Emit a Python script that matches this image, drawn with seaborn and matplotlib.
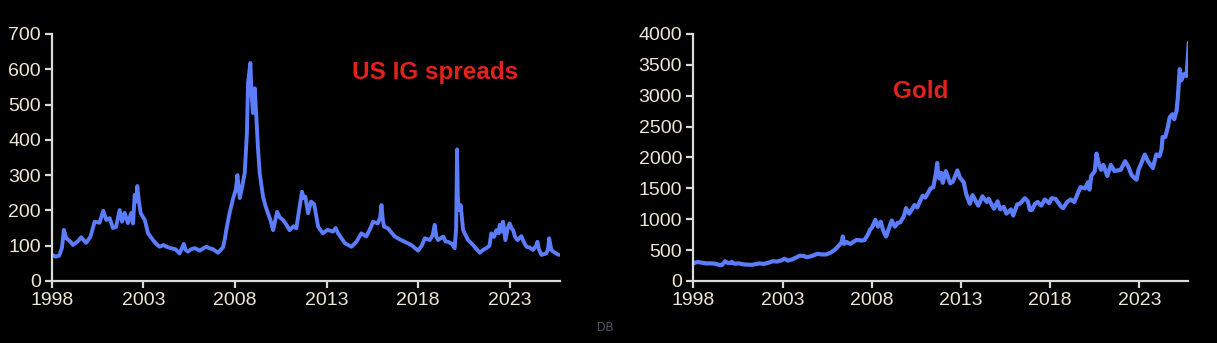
import matplotlib
matplotlib.use("Agg")
import matplotlib.pyplot as plt
import seaborn as sns
import pandas as pd

# ---------------- data ----------------
ig_years = [1998.0, 1998.2, 1998.4, 1998.55, 1998.65, 1998.78, 1999.0, 1999.15, 1999.4, 1999.6,
            1999.86, 2000.1, 2000.33, 2000.6, 2000.8, 2000.97, 2001.15, 2001.33, 2001.5, 2001.7,
            2001.83, 2001.97, 2002.15, 2002.33, 2002.43, 2002.52, 2002.6, 2002.66, 2002.74, 2002.85,
            2003.07, 2003.25, 2003.52, 2003.7, 2003.88, 2004.1, 2004.25, 2004.5, 2004.75, 2004.97,
            2005.2, 2005.3, 2005.43, 2005.6, 2005.8, 2006.07, 2006.25, 2006.43, 2006.6, 2006.8,
            2007.07, 2007.34, 2007.45, 2007.52, 2007.6, 2007.7, 2007.9, 2008.05, 2008.13, 2008.26,
            2008.4, 2008.53, 2008.65, 2008.71, 2008.78, 2008.84, 2008.9, 2008.98, 2009.08, 2009.16,
            2009.25, 2009.35, 2009.53, 2009.65, 2009.8, 2009.95, 2010.08, 2010.3, 2010.45, 2010.62,
            2010.8, 2010.98, 2011.2, 2011.35, 2011.53, 2011.66, 2011.75, 2011.84, 2011.99, 2012.15,
            2012.32, 2012.45, 2012.54, 2012.8, 2013.05, 2013.35, 2013.5, 2013.63, 2014.0, 2014.36,
            2014.63, 2014.9, 2015.17, 2015.4, 2015.54, 2015.8, 2015.93, 2016.0, 2016.07, 2016.14,
            2016.36, 2016.73, 2017.0, 2017.27, 2017.63, 2018.0, 2018.2, 2018.37, 2018.64, 2018.8,
            2018.91, 2019.0, 2019.09, 2019.37, 2019.5, 2019.64, 2019.85, 2020.0, 2020.08, 2020.13,
            2020.17, 2020.22, 2020.33, 2020.46, 2020.73, 2021.0, 2021.2, 2021.37, 2021.55, 2021.73,
            2021.9, 2022.0, 2022.15, 2022.28, 2022.4, 2022.46, 2022.55, 2022.64, 2022.77, 2022.9,
            2023.0, 2023.1, 2023.19, 2023.3, 2023.43, 2023.64, 2023.8, 2023.92, 2024.1, 2024.28,
            2024.45, 2024.52, 2024.6, 2024.74, 2025.0, 2025.1, 2025.16, 2025.28, 2025.47, 2025.69]
ig_spread = [74, 69, 72, 95, 145, 121, 112, 102, 112, 124,
             108, 125, 168, 165, 199, 173, 178, 150, 154, 201,
             168, 193, 164, 193, 163, 244, 225, 269, 229, 192,
             173, 135, 116, 105, 97, 102, 97, 93, 90, 78,
             105, 88, 83, 90, 93, 86, 92, 97, 93, 90,
             80, 95, 120, 144, 165, 192, 235, 260, 300, 235,
             270, 306, 420, 560, 590, 618, 532, 476, 546, 465,
             380, 305, 239, 215, 192, 170, 144, 196, 180, 173,
             160, 144, 155, 149, 211, 253, 235, 239, 192, 225,
             218, 180, 154, 135, 145, 140, 150, 135, 107, 97,
             111, 135, 126, 150, 168, 163, 180, 215, 175, 154,
             149, 126, 118, 111, 102, 86, 100, 121, 116, 130,
             159, 125, 116, 126, 112, 111, 105, 93, 150, 373,
             240, 201, 215, 144, 116, 102, 90, 80, 88, 93,
             100, 135, 125, 144, 135, 159, 140, 168, 116, 150,
             163, 150, 144, 125, 116, 127, 108, 97, 95, 88,
             100, 111, 90, 74, 78, 90, 121, 88, 80, 74]

gold_years = [1998.0, 1998.25, 1998.55, 1998.7, 1999.0, 1999.2, 1999.45, 1999.6, 1999.72, 1999.78,
              1999.9, 2000.1, 2000.15, 2000.3, 2000.55, 2000.8, 2001.0, 2001.3, 2001.45, 2001.7,
              2001.95, 2002.2, 2002.45, 2002.7, 2002.95, 2003.1, 2003.3, 2003.55, 2003.8, 2003.97,
              2004.2, 2004.35, 2004.6, 2004.95, 2005.2, 2005.45, 2005.7, 2005.95, 2006.1, 2006.3,
              2006.38, 2006.45, 2006.6, 2006.8, 2006.95, 2007.15, 2007.45, 2007.6, 2007.8, 2007.9,
              2008.0, 2008.1, 2008.2, 2008.35, 2008.5, 2008.65, 2008.8, 2008.97, 2009.12, 2009.3,
              2009.45, 2009.6, 2009.8, 2009.92, 2010.1, 2010.4, 2010.55, 2010.7, 2010.85, 2011.0,
              2011.1, 2011.3, 2011.45, 2011.6, 2011.67, 2011.72, 2011.8, 2011.9, 2011.98, 2012.15,
              2012.4, 2012.55, 2012.8, 2012.95, 2013.15, 2013.3, 2013.5, 2013.65, 2013.8, 2013.97,
              2014.2, 2014.45, 2014.55, 2014.85, 2015.05, 2015.2, 2015.4, 2015.55, 2015.8, 2015.93,
              2016.15, 2016.3, 2016.58, 2016.75, 2016.86, 2016.97, 2017.15, 2017.3, 2017.5, 2017.7,
              2017.95, 2018.08, 2018.3, 2018.62, 2018.73, 2018.95, 2019.15, 2019.35, 2019.55, 2019.7,
              2019.95, 2020.12, 2020.2, 2020.3, 2020.5, 2020.6, 2020.72, 2020.85, 2020.98, 2021.2,
              2021.4, 2021.6, 2021.95, 2022.2, 2022.4, 2022.55, 2022.75, 2022.84, 2022.95, 2023.1,
              2023.3, 2023.5, 2023.75, 2023.95, 2024.12, 2024.24, 2024.3, 2024.45, 2024.6, 2024.7,
              2024.85, 2024.95, 2025.08, 2025.15, 2025.26, 2025.35, 2025.5, 2025.64, 2025.7, 2025.77]
gold_price = [289, 308, 293, 285, 286, 282, 261, 256, 300, 320,
              295, 290, 310, 280, 285, 270, 265, 262, 270, 285,
              277, 295, 320, 315, 335, 360, 330, 350, 385, 410,
              405, 385, 400, 440, 430, 430, 460, 510, 555, 620,
              720, 600, 630, 600, 630, 665, 655, 665, 760, 830,
              860, 920, 990, 880, 960, 810, 720, 860, 980, 880,
              940, 950, 1050, 1180, 1090, 1230, 1190, 1290, 1380, 1350,
              1400, 1500, 1520, 1750, 1910, 1700, 1660, 1750, 1590, 1780,
              1580, 1610, 1790, 1670, 1600, 1400, 1250, 1390, 1310, 1220,
              1370, 1280, 1330, 1170, 1290, 1160, 1200, 1090, 1160, 1060,
              1240, 1250, 1341, 1290, 1150, 1150, 1250, 1280, 1220, 1320,
              1260, 1340, 1330, 1200, 1180, 1280, 1320, 1280, 1420, 1520,
              1500, 1600, 1480, 1700, 1780, 2062, 1900, 1800, 1880, 1700,
              1880, 1780, 1800, 1940, 1840, 1720, 1660, 1640, 1800, 1900,
              2046, 1930, 1830, 2050, 2020, 2127, 2330, 2330, 2500, 2650,
              2700, 2620, 2750, 2950, 3430, 3250, 3350, 3320, 3550, 3864]

ig_ticks = [0, 100, 200, 300, 400, 500, 600, 700]
gold_ticks = [0, 500, 1000, 1500, 2000, 2500, 3000, 3500, 4000]
year_ticks = [1998, 2003, 2008, 2013, 2018, 2023]

ig_df = pd.DataFrame({"year": ig_years, "value": ig_spread})
gold_df = pd.DataFrame({"year": gold_years, "value": gold_price})

# ---------------- style ----------------
sns.set_theme(style="white")
plt.rcParams["font.family"] = ["Liberation Sans", "DejaVu Sans"]

BG = "black"
LINE = "#5B7CFB"
SPINE = "#d9d9d9"
TICKTXT = "#efe6d4"
RED = "#e3221c"

fig = plt.figure(figsize=(12.17, 3.43), dpi=100, facecolor=BG)
ax1 = fig.add_axes([0.0427, 0.1808, 0.4174, 0.7201])
ax2 = fig.add_axes([0.5697, 0.1808, 0.4067, 0.7201])


def style_axis(ax, yticks, ylim):
    ax.set_facecolor(BG)
    for s in ["top", "right"]:
        ax.spines[s].set_visible(False)
    for s in ["left", "bottom"]:
        ax.spines[s].set_color(SPINE)
        ax.spines[s].set_linewidth(1.6)
    ax.set_xticks(year_ticks)
    ax.set_xticklabels([str(y) for y in year_ticks])
    ax.set_yticks(yticks)
    ax.set_yticklabels([str(v) for v in yticks])
    ax.set_ylim(*ylim)
    ax.tick_params(axis="both", direction="out", length=5, width=1.6,
                   color=SPINE, labelcolor=TICKTXT, labelsize=14, pad=3,
                   left=True, bottom=True)
    ax.grid(False)
    ax.set_xlabel("")
    ax.set_ylabel("")


sns.lineplot(data=ig_df, x="year", y="value", ax=ax1, color=LINE, linewidth=2.8)
ax1.set_xlim(1998, 2025.75)
style_axis(ax1, ig_ticks, (0, 700))

sns.lineplot(data=gold_df, x="year", y="value", ax=ax2, color=LINE, linewidth=3.0)
ax2.set_xlim(1998, 2025.74)
style_axis(ax2, gold_ticks, (0, 4000))

fig.text(435 / 1217, 1 - 73 / 343, "US IG spreads", color=RED,
         fontsize=17.5, fontweight="bold", ha="center", va="center")
fig.text(921 / 1217, 1 - 91 / 343, "Gold", color=RED,
         fontsize=17.5, fontweight="bold", ha="center", va="center")

fig.text(605 / 1217, 1 - 328 / 343, "DB", color="#4d5b70", fontsize=8.5,
         ha="center", va="center")

fig.savefig("out.png", dpi=100, facecolor=BG)
